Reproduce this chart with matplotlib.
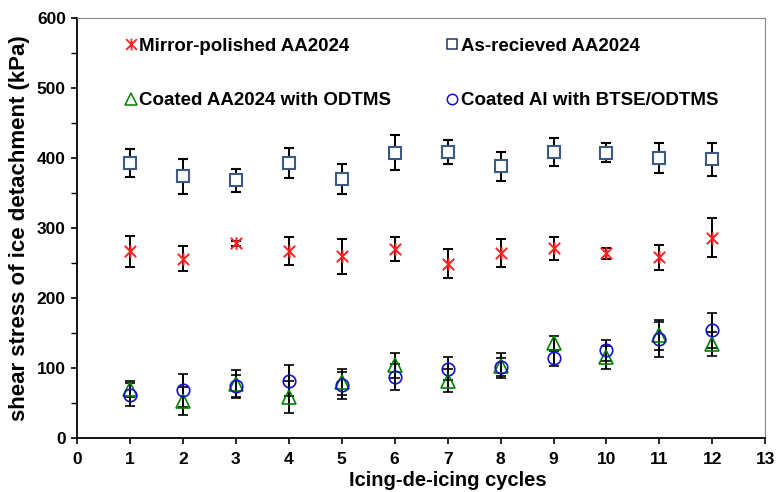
import matplotlib
matplotlib.use("Agg")
import matplotlib.pyplot as plt
from matplotlib.path import Path
from matplotlib.lines import Line2D
from matplotlib.ticker import MultipleLocator

cycles = [1, 2, 3, 4, 5, 6, 7, 8, 9, 10, 11, 12]
mirror = [267, 256, 278, 267, 260, 270, 249, 265, 271, 264, 258, 286]
mirror_err = [22, 18, 4, 20, 25, 17, 21, 20, 16, 8, 18, 28]
asrec = [393, 374, 368, 393, 370, 408, 409, 388, 409, 408, 400, 398]
asrec_err = [20, 25, 16, 21, 21, 25, 17, 21, 20, 14, 21, 24]
odtms = [70, 53, 77, 59, 80, 104, 82, 103, 135, 115, 147, 134]
odtms_err = [12, 20, 20, 23, 18, 18, 17, 18, 11, 16, 22, 17]
btse = [62, 68, 74, 82, 75, 87, 99, 101, 114, 125, 141, 154]
btse_err = [17, 24, 16, 22, 19, 18, 16, 13, 11, 15, 25, 25]
labels = ["Mirror-polished AA2024", "As-recieved AA2024",
          "Coated AA2024 with ODTMS", "Coated Al with BTSE/ODTMS"]

plt.rcParams['font.family'] = ['Liberation Sans', 'DejaVu Sans']
fig = plt.figure(figsize=(7.77, 4.92), dpi=100)
ax = fig.add_axes([0.099, 0.110, 0.886, 0.853])

# X-with-vertical-bar marker
xstar = Path([(-1, -1), (1, 1), (-1, 1), (1, -1), (0, -1.1), (0, 1.1)],
             [Path.MOVETO, Path.LINETO, Path.MOVETO, Path.LINETO, Path.MOVETO, Path.LINETO])

RED = '#ff2020'
SQ = '#3a5a85'
GRN = '#008000'
BLU = '#1010cc'

ekw = dict(ecolor='black', elinewidth=1.4, capsize=3.5, capthick=1.4, linestyle='none')
ax.errorbar(cycles, mirror, yerr=mirror_err, marker=xstar, ms=9,
            mec=RED, mfc='none', mew=1.4, zorder=3, **ekw)
ax.errorbar(cycles, asrec, yerr=asrec_err, marker='s', ms=8.5,
            mec=SQ, mfc='white', mew=1.5, zorder=3, **ekw)
ax.errorbar(cycles, odtms, yerr=odtms_err, marker='^', ms=9.5,
            mec=GRN, mfc='none', mew=1.2, zorder=3, **ekw)
ax.errorbar(cycles, btse, yerr=btse_err, marker='o', ms=9,
            mec=BLU, mfc='none', mew=1.2, zorder=3, **ekw)

ax.set_xlim(0, 13)
ax.set_ylim(0, 600)
ax.set_xticks(range(0, 14))
ax.set_yticks(range(0, 601, 100))
ax.yaxis.set_minor_locator(MultipleLocator(50))
for lab in ax.get_xticklabels() + ax.get_yticklabels():
    lab.set_fontweight('bold')
    lab.set_fontsize(12.5)
ax.tick_params(which='major', direction='out', length=4, width=1.2)
ax.tick_params(axis='x', pad=6)
ax.tick_params(axis='y', pad=4)
ax.tick_params(which='minor', direction='out', length=4, width=1.0)
ax.set_xlabel("Icing-de-icing cycles", fontsize=14.5, fontweight='bold')
ax.xaxis.set_label_coords(0.539, -0.078)
ax.set_ylabel("shear stress of ice detachment (kPa)", fontsize=16, fontweight='bold', labelpad=5)
for s in ['left', 'bottom']:
    ax.spines[s].set_linewidth(1.3)
for s in ['top', 'right']:
    ax.spines[s].set_color('#888888')

handles = [
    Line2D([], [], marker=xstar, ms=8.5, mec=RED, mfc='none', mew=1.3, ls='none'),
    Line2D([], [], marker='^', ms=8, mec=GRN, mfc='none', mew=1.1, ls='none'),
    Line2D([], [], marker='s', ms=7.5, mec='#1f3560', mfc='none', mew=1.1, ls='none'),
    Line2D([], [], marker='o', ms=7.5, mec=BLU, mfc='none', mew=1.1, ls='none'),
]
order_labels = [labels[0], labels[2], labels[1], labels[3]]
ax.legend(handles, order_labels, ncol=2, loc='upper left',
          bbox_to_anchor=(123.5 / 777, 454.5 / 492), bbox_transform=fig.transFigure,
          frameon=False, prop=dict(weight='bold', size=13.5), handletextpad=0.05,
          handlelength=0.8, columnspacing=2.85, labelspacing=2.0,
          borderpad=0, borderaxespad=0)

fig.savefig("out.png", dpi=100)
